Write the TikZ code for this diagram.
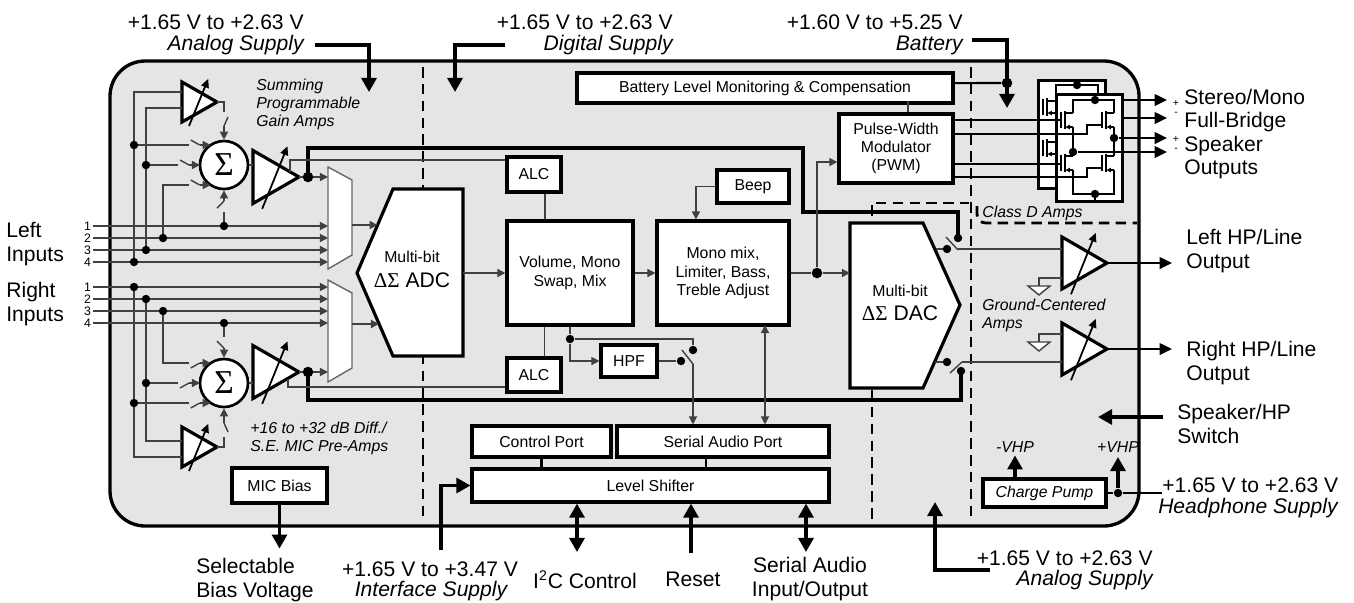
\documentclass[tikz,border=0pt]{standalone}
\usepackage{fontspec}
\setmainfont{Liberation Sans}
\newfontfamily\grk{Liberation Serif}
\usetikzlibrary{arrows.meta}

\tikzset{
  blk/.style={draw=black, line width=1.8pt, fill=white, inner sep=0pt, align=center, font=\fontsize{9}{10.4}\selectfont},
  sz/.style 2 args={minimum width=#1*0.2mm, minimum height=#2*0.2mm},
  wire/.style={draw=black!75, line width=0.8pt},
  mid/.style={draw=black, line width=1.2pt},
  bus/.style={draw=black, line width=1.9pt},
  fet/.style={draw=black, line width=0.9pt},
  sarr/.style={-{Triangle[length=4.6pt,width=4.6pt]}},
  dsarr/.style={{Triangle[length=4.6pt,width=4.6pt]}-{Triangle[length=4.6pt,width=4.6pt]}},
  oarr/.style={-{Triangle[length=7pt,width=6.5pt]}},
  barr/.style={-{Triangle[length=8pt,width=8.5pt]}},
  dbarr/.style={{Triangle[length=8pt,width=8.5pt]}-{Triangle[length=8pt,width=8.5pt]}},
  zone/.style={draw=black, line width=1.6pt, dash pattern=on 6pt off 3.6pt},
  jdot/.style={circle, fill=black, inner sep=0pt, minimum size=4.8pt},
  bdot/.style={circle, fill=black, inner sep=0pt, minimum size=6pt},
  big/.style={font=\fontsize{12}{13.4}\selectfont, inner sep=0pt},
  bigi/.style={font=\fontsize{12}{13.4}\selectfont\itshape, inner sep=0pt},
  note/.style={font=\fontsize{9}{10.2}\selectfont\itshape, align=left, inner sep=0pt},
  small/.style={font=\fontsize{9}{10}\selectfont, inner sep=0pt},
  num/.style={font=\fontsize{7}{7}\selectfont, inner sep=1pt},
  amp/.style={draw=black, line width=1.8pt, fill=white, line join=miter},
  gain/.style={draw=black, line width=1pt, -{Triangle[length=5pt,width=4.5pt]}},
  sumn/.style={circle, draw=black, line width=1.5pt, fill=white, inner sep=0pt, minimum size=48*0.2mm, font=\fontsize{19}{19}\grk},
  mux/.style={draw=black!60, line width=0.8pt, fill=white},
}

\begin{document}
\begin{tikzpicture}[x=0.2mm, y=-0.2mm]
\useasboundingbox (0,0) rectangle (1354,602);

% chip body and supply domains
\draw[line width=1.9pt, fill=black!10, rounded corners=20pt] (110,61) rectangle (1139,526);
\draw[zone] (423,67) -- (423,520);
\draw[zone] (971,67) -- (971,520);
\draw[zone] (872,390) -- (872,520);
\draw[zone] (872,216) -- (872,203) -- (969,203);
\draw[zone, rounded corners=5pt] (977,206) |- (1137,223);

% supplies on top
\node[big, anchor=east] (asv) at (304,22) {+1.65 V to +2.63 V};
\node[bigi, anchor=east] (asn) at (304,45) {Analog Supply};
\node[big, anchor=east] (dsv) at (673,22) {+1.65 V to +2.63 V};
\node[bigi, anchor=east] (dsn) at (673,45) {Digital Supply};
\node[big, anchor=east] (bav) at (963,22) {+1.60 V to +5.25 V};
\node[bigi, anchor=east] (ban) at (963,45) {Battery};
\draw[bus, barr] ([xshift=6.3pt]asn.east) -| (369,92);
\draw[bus, barr] ([xshift=-21.6pt]dsn.west) -| (455,92);
\draw[bus, barr] ([xshift=5pt, yshift=2.8pt]ban.east) -| (1007,108);

% converters
\draw[amp] (357,273) -- (393,189) -- (463,189) -- (463,356) -- (393,356) -- cycle;
\node[small] (adc) at (412,257) {Multi-bit};
\node[big] (adcl) at (412,280) {{\grk ΔΣ} ADC};
\draw[amp] (850,223) -- (923,223) -- (960,305) -- (923,388) -- (850,388) -- cycle;
\node[small] (dac) at (900,291) {Multi-bit};
\node[big] (dacl) at (900,313) {{\grk ΔΣ} DAC};
\draw[mux] (328,167) -- (352,180) -- (352,255) -- (328,269) -- cycle;
\draw[mux] (328,280) -- (352,293) -- (352,368) -- (328,382) -- cycle;

% blocks
\node[blk, sz={376}{30}] (bat) at (765,88) {Battery Level Monitoring \& Compensation};
\node[blk, sz={114}{69}] (pwm) at (896,148.5) {Pulse-Width\\Modulator\\(PWM)};
\node[blk, sz={54}{35}] (alct) at (534,174.5) {ALC};
\node[blk, sz={54}{34}] (alcb) at (534,375) {ALC};
\node[blk, sz={126}{104}] (vol) at (570,273) {Volume, Mono\\Swap, Mix};
\node[blk, sz={132}{104}] (mono) at (723,273) {Mono mix,\\Limiter, Bass,\\Treble Adjust};
\node[blk, sz={72}{33}] (beep) at (753,186.5) {Beep};
\node[blk, sz={56}{32}] (hpf) at (629,361) {HPF};
\node[blk, sz={139}{31}] (ctrl) at (541.5,441.5) {Control Port};
\node[blk, sz={212}{31}] (sap) at (723,441.5) {Serial Audio Port};
\node[blk, sz={357}{33}] (ls) at (650.5,485.5) {Level Shifter};
\node[blk, sz={95}{35}] (micb) at (279.5,485.5) {MIC Bias};
\node[blk, sz={123}{28}, font=\fontsize{9}{10}\selectfont\itshape] (cp) at (1044.5,493) {Charge Pump};

% amplifiers
\foreach \x/\y/\w/\h in {182/102/35/40, 182/447/35/40, 253/177/46/53, 253/372/46/53, 1062/263/45/52, 1062/349/45/52}{
  \draw[amp] (\x,\y-\h/2) -- (\x+\w,\y) -- (\x,\y+\h/2) -- cycle;
  \draw[gain] (\x+0.2*\w,\y+0.6*\h) -- (\x+0.75*\w,\y-0.58*\h);
}
\node[sumn] (sumT) at (224,165) {Σ};
\node[sumn] (sumB) at (224,383) {Σ};

% analog inputs
\node[big, align=left, anchor=west] (lin) at (6,244) {Left\\Inputs};
\node[big, align=left, anchor=west] (rin) at (6,304) {Right\\Inputs};
\foreach \y [count=\n] in {226,238,250,262}{
  \node[num, anchor=east] (l\n) at (93,\y) {\n};
  \draw[wire, sarr] (l\n.east) -- (328,\y);
}
\foreach \y [count=\n] in {287,299,311,323}{
  \node[num, anchor=east] (r\n) at (93,\y) {\n};
  \draw[wire, sarr] (r\n.east) -- (328,\y);
}
\draw[wire] (182,92) -| (134,262);
\draw[wire] (182,108) -| (146,250);
\draw[wire] (182,441) -| (146,299);
\draw[wire] (182,457) -| (134,287);
\draw[wire] (134,145) -- (189,145);
\draw[wire] (146,165) -- (178,165);
\draw[wire] (163,238) |- (189,185);
\draw[wire] (163,311) |- (189,363);
\draw[wire] (146,383) -- (178,383);
\draw[wire] (134,403) -- (189,403);
\foreach \y/\e/\d in {145/210.7/-5, 165/200/-5, 185/210.7/-5, 363/210.7/5, 383/200/5, 403/210.7/5}{
  \draw[wire] (\e-20,\y+\d) -- (\e-11,\y);
  \draw[wire, sarr] (\e-11,\y) -- (\e,\y);
}
\draw[wire] (217,102) -| (224,112);
\draw[wire] (228,117) -- (224,126);
\draw[wire, sarr] (224,126) -- (sumT.north);
\draw[wire] (224,226) -- (224,212);
\draw[wire] (217,208) -- (224,201);
\draw[wire, sarr] (224,201) -- (sumT.south);
\draw[wire] (224,323) -- (224,337);
\draw[wire] (217,341) -- (224,348);
\draw[wire, sarr] (224,348) -- (sumB.north);
\draw[wire] (217,447) -| (224,437);
\draw[wire] (228,432) -- (224,423);
\draw[wire, sarr] (224,423) -- (sumB.south);
\draw[wire] (sumT.east) -- (253,165);
\draw[wire] (sumB.east) -- (253,383);
\foreach \x/\y in {134/145, 146/165, 163/238, 146/250, 134/262, 224/226, 134/287, 146/299, 163/311, 224/323, 146/383, 134/403}{
  \node[jdot] at (\x,\y) {};
}

% amp outputs, buses and level control
\draw[bus] (308,177) -- (308,148) -| (803,212) -| (958,237);
\draw[bus] (308,372) -- (308,400) -| (961,371);
\draw[wire] (299,177) -- (308,177);
\draw[wire, sarr] (308,177) -- (328,177);
\draw[wire] (299,372) -- (308,372);
\draw[wire, sarr] (308,372) -- (328,372);
\node[bdot] at (308,177) {};
\node[bdot] at (308,372) {};
\draw[wire] (290,171.5) |- ([yshift=8.2pt]alct.west);
\draw[wire] (288,379) |- ([yshift=-6.8pt]alcb.west);
\draw[wire] (alct.-60) -- (alct.-60 |- vol.north);
\draw[wire] (alcb.60) -- (alcb.60 |- vol.south);

% digital path
\draw[wire, sarr] (352,225) -- (377.6,225);
\draw[wire, sarr] (352,324) -- (379,324);
\coordinate (adco) at (463,273);
\draw[wire, sarr] (adco) -- (vol.west);
\draw[wire, sarr] (vol.east) -- (mono.west);
\draw[wire, sarr] (beep.west) -| ([xshift=-15.4pt]mono.north);
\node[bdot] (mdot) at (817,273) {};
\draw[wire] (mono.east) -- (mdot);
\draw[wire, sarr] (mdot) -- (850,273);
\draw[wire, sarr] (mdot) |- ([yshift=-7.7pt]pwm.west);
\draw[wire] ([xshift=6.8pt]pwm.north) -- ++(0,-11);
\node[bdot] (bdt) at (1007,83) {};
\draw[mid] ([yshift=2.8pt]bat.east) -- (bdt);

\node[jdot] (hd) at (570,339) {};
\node[jdot] (hc1) at (681,361) {};
\node[jdot] (hc2) at (693,350) {};
\coordinate (hsw) at (693,364);
\draw[wire] (vol.south) -- (hd);
\draw[wire, sarr] (hd) |- (hpf.west);
\draw[wire] (hd) -| (hc2);
\draw[wire] (hpf.east) -- (hc1);
\draw[wire] (hsw) -- (682,350);
\draw[wire, sarr] (hsw) -- (hsw |- sap.north);
\coordinate (mb) at (765,325);
\draw[wire, dsarr] (mb) -- (mb |- sap.north);
\draw[mid] (ctrl.south) -- (ctrl.south |- ls.north);
\coordinate (sp1) at (706,457);
\draw[mid] (sp1) -- (sp1 |- ls.north);

% interface pins
\node[big] (ifv) at (430,569) {+1.65 V to +3.47 V};
\node[bigi] (ifn) at (431,591) {Interface Supply};
\draw[bus, barr] (441,550) |- (ls.west);
\node[big] (i2c) at (585,580) {I\textsuperscript{2}C Control};
\coordinate (i2cp) at (577,552);
\draw[bus, dbarr] (i2cp) -- (i2cp |- ls.south);
\node[big] (rst) at (693,579) {Reset};
\coordinate (rstp) at (691,553);
\draw[bus, barr] (rstp) -- (rstp |- ls.south);
\node[big, align=center] (sai) at (810,579) {Serial Audio\\Input/Output};
\coordinate (saip) at (806,552);
\draw[bus, dbarr] (saip) -- (saip |- ls.south);
\draw[bus, barr] (micb.south) -- ++(0,44);
\node[big, align=left, anchor=west] (bias) at (196,580) {Selectable\\Bias Voltage};
\node[big, anchor=east] (asv2) at (1153,558) {+1.65 V to +2.63 V};
\node[bigi, anchor=east] (asn2) at (1153,580) {Analog Supply};
\draw[bus, barr] (990,570) -| (935,502);

% notes
\node[note, anchor=west] (sgn) at (256,104) {Summing\\Programmable\\Gain Amps};
\node[note, anchor=west] (mpn) at (250,438) {+16 to +32 dB Diff./\\S.E. MIC Pre-Amps};
\node[note, anchor=west] (cdn) at (982,213) {Class D Amps};
\node[note, anchor=west] (gcn) at (982,315) {Ground-Centered\\Amps};

% headphone amps
\draw[wire] (936,249) -- (947,249);
\draw[wire] (935,362) -- (947,362);
\draw[wire] (958,250) -- (946,237);
\draw[wire] (962,362) -- (950,373);
\draw[wire] (958,249) -- (1062,249);
\draw[wire] (962,362) -- (1062,362);
\foreach \x/\y in {947/249, 958/238, 947/362, 961/371}{
  \node[jdot] at (\x,\y) {};
}
\foreach \y in {278,334}{
  \draw[wire] (1062,\y) -| (1039,\y+8);
  \draw[draw=black!75, line width=0.8pt, fill=white] (1028,\y+8) -- (1050,\y+8) -- (1039,\y+17) -- cycle;
}
\draw[mid, oarr] (1107,263) -- (1172,263);
\draw[mid, oarr] (1107,349) -- (1172,349);
\node[big, align=left, anchor=west] (lhp) at (1186,251) {Left HP/Line\\Output};
\node[big, align=left, anchor=west] (rhp) at (1186,363) {Right HP/Line\\Output};
\node[big, align=left, anchor=west] (spk) at (1177,424) {Speaker/HP\\Switch};
\draw[bus, barr] (1163,417) -- (1098,417);

% charge pump
\node[jdot] (vp) at (1118,493) {};
\draw[mid] (cp.east) -- (vp) -- (1162,493);
\draw[bus, barr] ([xshift=-16.8pt]cp.north) -- ++(0,-22);
\draw[bus, barr] (vp) -- (1118,457);
\node[note] (vn) at (1015,447) {-VHP};
\node[note] (vpl) at (1118,447) {+VHP};
\node[big, anchor=west] (hpv) at (1162,485) {+1.65 V to +2.63 V};
\node[bigi, anchor=east] (hpn) at (1338,508) {Headphone Supply};

% class D bridges
\draw[line width=1.7pt, fill=white] (1038,80) rectangle (1105,188);
\draw[fet] (1056,94) |- (1098,85) -- (1098,94);
\node[jdot] at (1077,85) {};
\foreach \cy in {107,148}{
  \draw[fet] (1043,\cy-8) -- (1043,\cy+8);
  \draw[fet] (1047,\cy-9) -- (1047,\cy+9);
  \draw[fet] (1047,\cy-6) -- (1056,\cy-6);
  \draw[fet, -{Triangle[length=2.5pt,width=2.5pt]}] (1056,\cy+6) -- (1047.5,\cy+6);
}
\draw[line width=1.7pt, fill=white] (1056,94) rectangle (1122,201);
\draw[fet] (1073,113) -- (1073,100) -- (1114,100) -- (1114,113);
\draw[fet] (1073,127) -- (1073,156);
\draw[fet] (1114,127) -- (1114,156);
\draw[fet] (1073,170) -- (1073,194) -- (1114,194) -- (1114,170);
\draw[fet] (1095,194) -- (1095,201);
\node[jdot] at (1095,100) {};
\node[jdot] at (1095,194) {};
\foreach \gx in {1061,1102}{
  \foreach \cy in {120,163}{
    \draw[fet] (\gx,\cy-8) -- (\gx,\cy+8);
    \draw[fet] (\gx+4,\cy-9) -- (\gx+4,\cy+9);
    \draw[fet] (\gx+4,\cy-7) -- (\gx+12,\cy-7);
    \draw[fet, -{Triangle[length=2.5pt,width=2.5pt]}] (\gx+12,\cy+7) -- (\gx+4.5,\cy+7);
  }
}
\draw[mid] (pwm.east |- 0,120) -- (1061,120);
\draw[mid] (pwm.east |- 0,134) -| (1087,125) -- (1102,125);
\draw[mid] (pwm.east |- 0,164) -- (1061,164);
\draw[mid] (pwm.east |- 0,177) -| (1087,168) -- (1102,168);
\node[jdot] (ro) at (1114,138) {};
\node[jdot] (lo) at (1073,152) {};
\draw[mid, oarr] (1122,100) -- (1167,100);
\draw[mid, oarr] (1122,118) -- (1167,118);
\draw[mid, oarr] (ro) -- (1167,138);
\draw[mid, oarr] (lo) -- (1167,152);
\node[font=\fontsize{6}{6}\selectfont, inner sep=0pt] at (1176,103) {+};
\node[font=\fontsize{6}{6}\selectfont, inner sep=0pt] at (1176,114) {-};
\node[font=\fontsize{6}{6}\selectfont, inner sep=0pt] at (1176,139) {+};
\node[font=\fontsize{6}{6}\selectfont, inner sep=0pt] at (1176,150) {-};
\node[big, align=left, anchor=west] (spo) at (1184,134) {Stereo/Mono\\Full-Bridge\\Speaker\\Outputs};
\end{tikzpicture}
\end{document}
